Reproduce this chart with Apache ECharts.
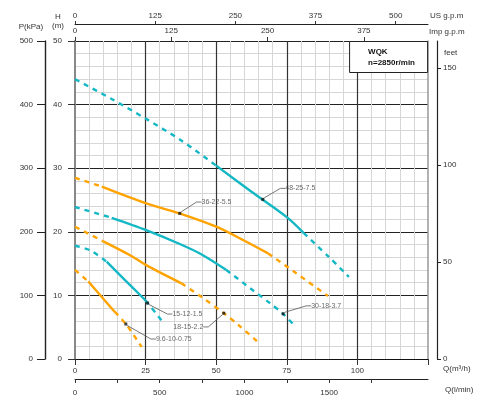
<!DOCTYPE html>
<html><head><meta charset="utf-8">
<script src="https://cdn.jsdelivr.net/npm/echarts@6/dist/echarts.min.js"></script>
<style>html,body{margin:0;padding:0;background:#fff}#c{width:493px;height:404px}</style>
</head><body><div id="c"></div>
<script>
// ---------- data ----------
const CURVE_NAMES = ['48-25-7.5', '36-22-5.5', '30-18-3.7', '18-15-2.2', '15-12-1.5', '9.6-10-0.75'];

const Q_48_25_75 = [0, 12.5, 25, 37.5, 50, 62.5, 75, 81, 90, 97];
const H_48_25_75 = [44.0, 41.0, 37.8, 34.4, 30.4, 26.3, 22.3, 19.8, 16.0, 12.9];
const SOLID_48_25_75 = [4, 7];

const Q_36_22_55 = [0, 9.5, 25, 37, 50, 60, 68.4, 78, 89.6];
const H_36_22_55 = [28.5, 27.1, 24.5, 22.9, 20.8, 18.6, 16.6, 13.6, 9.9];
const SOLID_36_22_55 = [1, 6];

const Q_30_18_37 = [0, 13, 25, 37.5, 45, 53.6, 63, 69, 73.7, 77.8];
const H_30_18_37 = [23.9, 22.2, 20.3, 18.0, 16.4, 14.0, 10.8, 8.8, 7.1, 5.2];
const SOLID_30_18_37 = [1, 5];

const Q_18_15_22 = [0, 10, 20, 25, 37.7, 45, 52.7, 58, 64.7];
const H_18_15_22 = [20.8, 18.5, 16.2, 14.8, 11.9, 9.7, 7.2, 5.3, 2.7];
const SOLID_18_15_22 = [1, 4];

const Q_15_12_15 = [0, 5.3, 11.2, 17.7, 25, 30.6];
const H_15_12_15 = [17.8, 17.1, 15.3, 12.4, 9.2, 6.1];
const SOLID_15_12_15 = [2, 4];

const Q_96_10_075 = [0, 4.7, 8.8, 14.1, 18, 23.6];
const H_96_10_075 = [14.0, 12.2, 10.1, 7.4, 5.5, 1.9];
const SOLID_96_10_075 = [1, 3];

const MARKER_Q = [66.5, 37.1, 73.7, 52.7, 25.7, 18];
const MARKER_H = [25.1, 22.9, 7.1, 7.2, 8.8, 5.5];

const Q_M3H_LABELS = [0, 25, 50, 75, 100];
const LMIN_TICKS = [0, 250, 500, 750, 1000, 1250, 1500, 1750];
const LMIN_LABELS = [0, 500, 1000, 1500];
const USGPM_TICKS = [0, 125, 250, 375, 500];
const IMPGPM_TICKS = [0, 125, 250, 375];
const FEET_TICKS = [0, 50, 100, 150];

// ---------- unit conversions / ranges ----------
const Q_MAX = 125, H_MAX = 50;
const M3H_TO_LMIN = 1000 / 60, M3H_TO_USGPM = 4.40287, M3H_TO_IMPGPM = 3.66615, M_TO_FT = 3.28084, H_TO_KPA = 10;

// ---------- styles ----------
const CYAN = '#14b8c4', ORANGE = '#ffa300';
const FONT = 'Liberation Sans, Arial, sans-serif';
const TXT = { fontSize: 8, color: '#333', fontFamily: FONT };
const plain = v => String(Math.round(v));
const LABEL_DX = [37.5, 36.7, 43, -35.5, 39.8, 48];
const LABEL_DY = [-11, -11.3, -8, 13.7, 11, 15];

const curves = [
  { name: CURVE_NAMES[0], q: Q_48_25_75, h: H_48_25_75, solid: SOLID_48_25_75, color: CYAN },
  { name: CURVE_NAMES[1], q: Q_36_22_55, h: H_36_22_55, solid: SOLID_36_22_55, color: ORANGE },
  { name: CURVE_NAMES[2], q: Q_30_18_37, h: H_30_18_37, solid: SOLID_30_18_37, color: CYAN },
  { name: CURVE_NAMES[3], q: Q_18_15_22, h: H_18_15_22, solid: SOLID_18_15_22, color: ORANGE },
  { name: CURVE_NAMES[4], q: Q_15_12_15, h: H_15_12_15, solid: SOLID_15_12_15, color: CYAN },
  { name: CURVE_NAMES[5], q: Q_96_10_075, h: H_96_10_075, solid: SOLID_96_10_075, color: ORANGE }
];

const series = [];
curves.forEach(c => {
  const pts = c.q.map((x, i) => [x, c.h[i]]);
  const s0 = c.solid[0], s1 = c.solid[1];
  [[0, s0, true], [s0, s1, false], [s1, pts.length - 1, true]].forEach(([a, b, dashed]) => {
    series.push({
      type: 'line', name: c.name, xAxisIndex: 0, yAxisIndex: 0,
      data: pts.slice(a, b + 1), symbol: 'none', smooth: 0.3, silent: true, z: 3,
      lineStyle: { color: c.color, width: 2.4, type: dashed ? [5, 5] : 'solid', cap: 'butt' }
    });
  });
});
series.push({
  type: 'scatter', xAxisIndex: 0, yAxisIndex: 0, z: 6, silent: true,
  data: MARKER_Q.map((q, i) => ({ value: [q, MARKER_H[i]], name: CURVE_NAMES[i] })),
  symbol: 'rect', symbolSize: 3, itemStyle: { color: '#111' },
  label: { show: true, position: 'inside', formatter: p => p.name, fontSize: 7, color: '#444', fontFamily: FONT },
  labelLine: { show: true, length2: 5, lineStyle: { color: '#555', width: 0.8 } },
  labelLayout: p => ({ dx: LABEL_DX[p.dataIndex], dy: LABEL_DY[p.dataIndex] })
});

const noSplit = { show: false };
const option = {
  animation: false,
  backgroundColor: '#fff',
  textStyle: { fontFamily: FONT },
  title: {
    text: 'WQK', subtext: 'n=2850r/min', right: 65, top: 41,
    padding: [7, 13, 6, 19], itemGap: 3,
    borderColor: '#222', borderWidth: 1, backgroundColor: '#fff',
    textStyle: { fontSize: 8, fontWeight: 'bold', color: '#111', fontFamily: FONT },
    subtextStyle: { fontSize: 8, fontWeight: 'bold', color: '#111', fontFamily: FONT }
  },
  grid: { left: 75, right: 65, top: 41, bottom: 45, containLabel: false, outerBoundsMode: 'none' },
  xAxis: [
    { // Q m3/h
      type: 'value', position: 'bottom', min: 0, max: Q_MAX, interval: 25,
      axisLine: { show: true, onZero: false, lineStyle: { color: '#111', width: 1.2 } },
      axisTick: { show: true, length: 6, lineStyle: { color: '#333' } },
      axisLabel: Object.assign({ customValues: Q_M3H_LABELS, margin: 8, formatter: plain }, TXT),
      splitLine: { show: true, showMinLine: false, showMaxLine: false, lineStyle: { color: '#333', width: 1.2 } },
      minorTick: { show: false, splitNumber: 5 },
      minorSplitLine: { show: true, lineStyle: { color: '#d6d6d6', width: 1 } },
      name: 'Q(m³/h)', nameLocation: 'end', nameGap: 15, nameMoveOverlap: false,
      nameTextStyle: Object.assign({ align: 'left', verticalAlign: 'top', padding: [6, 0, 0, 0] }, TXT)
    },
    { // L/min
      type: 'value', position: 'bottom', offset: 20, min: 0, max: Q_MAX * M3H_TO_LMIN,
      axisLine: { show: true, onZero: false, lineStyle: { color: '#222', width: 1 } },
      axisTick: { show: true, length: 4, customValues: LMIN_TICKS, lineStyle: { color: '#333' } },
      axisLabel: Object.assign({ customValues: LMIN_LABELS, margin: 10, formatter: plain }, TXT),
      splitLine: noSplit,
      name: 'Q(l/min)', nameLocation: 'end', nameGap: 17, nameMoveOverlap: false,
      nameTextStyle: Object.assign({ align: 'left', verticalAlign: 'top', padding: [7, 0, 0, 0] }, TXT)
    },
    { // US gpm
      type: 'value', position: 'top', offset: 17, min: 0, max: Q_MAX * M3H_TO_USGPM,
      axisLine: { show: true, onZero: false, lineStyle: { color: '#222', width: 1 } },
      axisTick: { show: true, length: 3, customValues: USGPM_TICKS, lineStyle: { color: '#333' } },
      axisLabel: Object.assign({ customValues: USGPM_TICKS, margin: 4, formatter: plain }, TXT),
      splitLine: noSplit,
      name: 'US g.p.m', nameLocation: 'end', nameGap: 2, nameMoveOverlap: false,
      nameTextStyle: Object.assign({ align: 'left', verticalAlign: 'bottom', padding: [0, 0, 4, 0] }, TXT)
    },
    { // Imp gpm
      type: 'value', position: 'top', offset: 0, min: 0, max: Q_MAX * M3H_TO_IMPGPM,
      axisLine: { show: false, onZero: false },
      axisTick: { show: true, length: 4, customValues: IMPGPM_TICKS, lineStyle: { color: '#333' } },
      axisLabel: Object.assign({ customValues: IMPGPM_TICKS, margin: 6, formatter: plain }, TXT),
      splitLine: noSplit,
      name: 'Imp g.p.m', nameLocation: 'end', nameGap: 1, nameMoveOverlap: false,
      nameTextStyle: Object.assign({ align: 'left', verticalAlign: 'bottom', padding: [0, 0, 5, 0] }, TXT)
    }
  ],
  yAxis: [
    { // H m
      type: 'value', position: 'left', min: 0, max: H_MAX, interval: 10,
      axisLine: { show: true, onZero: false, lineStyle: { color: '#888', width: 2 } },
      axisTick: { show: true, length: 7, lineStyle: { color: '#333' } },
      axisLabel: Object.assign({ margin: 13 }, TXT),
      splitLine: { show: true, showMinLine: false, showMaxLine: true, lineStyle: { color: '#222', width: 1.2 } },
      minorTick: { show: false, splitNumber: 5 },
      minorSplitLine: { show: true, lineStyle: { color: '#d6d6d6', width: 1 } },
      name: 'H\n(m)', nameLocation: 'end', nameGap: 11, nameMoveOverlap: false,
      nameTextStyle: Object.assign({ align: 'center', verticalAlign: 'bottom', lineHeight: 9, padding: [0, 34, 0, 0] }, TXT)
    },
    { // P kPa
      type: 'value', position: 'left', offset: 30, min: 0, max: H_MAX * H_TO_KPA, interval: 100,
      axisLine: { show: true, onZero: false, lineStyle: { color: '#222', width: 1.4 } },
      axisTick: { show: true, length: 8, lineStyle: { color: '#222' } },
      axisLabel: Object.assign({ margin: 12 }, TXT),
      splitLine: noSplit,
      name: 'P(kPa)', nameLocation: 'end', nameGap: 10, nameMoveOverlap: false,
      nameTextStyle: Object.assign({ align: 'center', verticalAlign: 'bottom', padding: [0, 28, 0, 0] }, TXT)
    },
    { // right edge of plot
      type: 'value', position: 'right', offset: 0, min: 0, max: H_MAX,
      axisLine: { show: true, onZero: false, lineStyle: { color: '#999', width: 1.5 } },
      axisTick: { show: false }, axisLabel: { show: false }, splitLine: noSplit
    },
    { // feet
      type: 'value', position: 'right', offset: 9, min: 0, max: H_MAX * M_TO_FT,
      axisLine: { show: true, onZero: false, lineStyle: { color: '#222', width: 1.2 } },
      axisTick: { show: true, length: 4, customValues: FEET_TICKS, lineStyle: { color: '#222' } },
      axisLabel: Object.assign({ customValues: FEET_TICKS, margin: 6, formatter: plain }, TXT),
      splitLine: noSplit,
      name: 'feet', nameLocation: 'end', nameGap: -16, nameMoveOverlap: false,
      nameTextStyle: Object.assign({ align: 'left', verticalAlign: 'bottom', padding: [0, 0, 0, 7] }, TXT)
    }
  ],
  series: series
};

const chart = echarts.init(document.getElementById('c'), null, { renderer: 'canvas', width: 493, height: 404 });
chart.setOption(option);
</script>
</body></html>
